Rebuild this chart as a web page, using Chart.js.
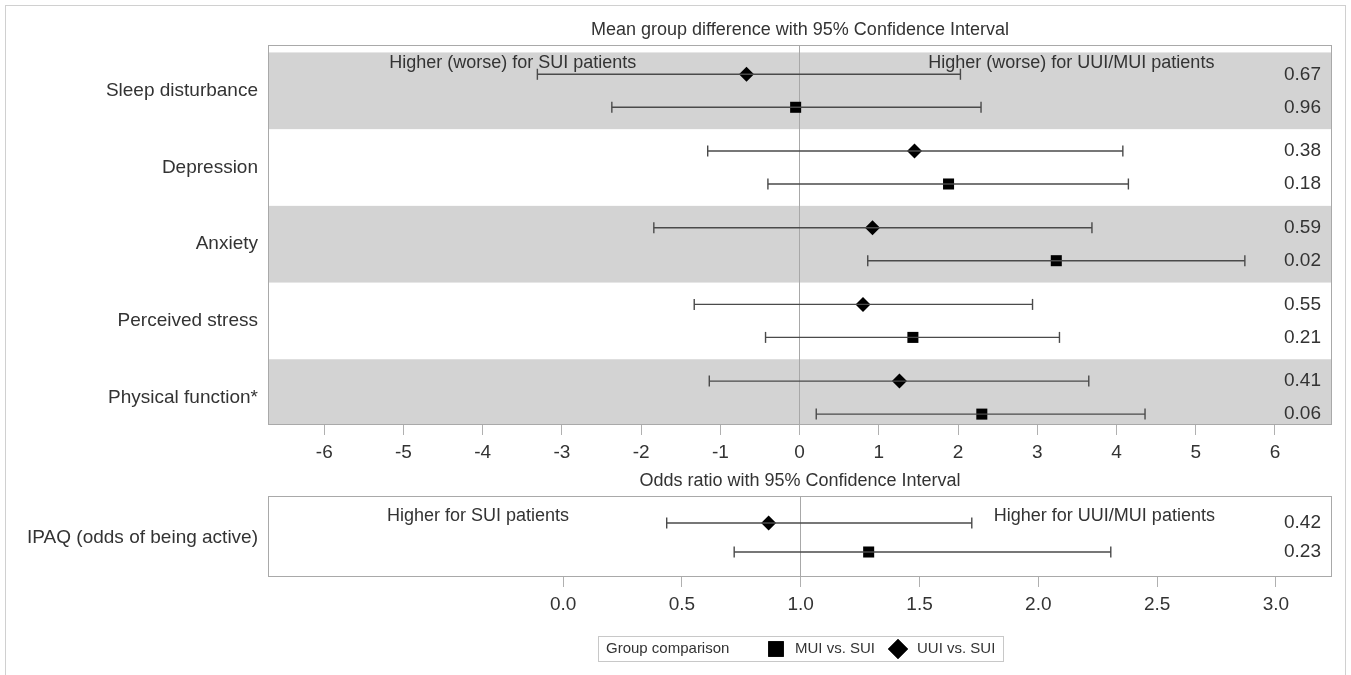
<!DOCTYPE html>
<html>
<head>
<meta charset="utf-8">
<script src="https://cdn.jsdelivr.net/npm/chart.js@4.4.1/dist/chart.umd.min.js"></script>
<style>
  body { margin: 0; background: #fff; }
  #wrap { position: relative; width: 1351px; height: 675px; overflow: hidden; }
  #frame { position: absolute; left: 5px; top: 5px; width: 1339px; height: 700px; border: 1px solid #d0d0d0; }
  canvas { position: absolute; left: 0; }
</style>
</head>
<body>
<div id="wrap">
  <div id="frame"></div>
  <canvas id="diffChart" width="1351" height="470" style="top:0"></canvas>
  <canvas id="oddsChart" width="1351" height="205" style="top:470px"></canvas>
</div>
<script>
// mean group difference panel
const outcomes = ['Sleep disturbance', 'Depression', 'Anxiety', 'Perceived stress', 'Physical function*'];
const uuiEst  = [-0.67, 1.45, 0.92, 0.80, 1.26];
const uuiLow  = [-3.31, -1.16, -1.84, -1.33, -1.14];
const uuiHigh = [2.03, 4.08, 3.69, 2.94, 3.65];
const muiEst  = [-0.05, 1.88, 3.24, 1.43, 2.30];
const muiLow  = [-2.37, -0.40, 0.86, -0.43, 0.21];
const muiHigh = [2.29, 4.15, 5.62, 3.28, 4.36];
const uuiP = ['0.67', '0.38', '0.59', '0.55', '0.41'];
const muiP = ['0.96', '0.18', '0.02', '0.21', '0.06'];
const diffTicks = [-6, -5, -4, -3, -2, -1, 0, 1, 2, 3, 4, 5, 6];

// odds ratio panel
const ipaqLabels = ['IPAQ (odds of being active)'];
const ipaqUuiEst  = [0.865];
const ipaqUuiLow  = [0.436];
const ipaqUuiHigh = [1.72];
const ipaqMuiEst  = [1.286];
const ipaqMuiLow  = [0.72];
const ipaqMuiHigh = [2.305];
const ipaqUuiP = ['0.42'];
const ipaqMuiP = ['0.23'];
const oddsTicks = [0, 0.5, 1, 1.5, 2, 2.5, 3];

const TXT = '#333333';
const LINE = '#4a4a4a';
Chart.defaults.font.family = '"Liberation Sans", Arial, sans-serif';
Chart.defaults.color = TXT;

function ciSets(low, high, off) {
  return low.map(function(lo, i) {
    return {
      showLine: true,
      data: [{x: lo, y: i + off}, {x: high[i], y: i + off}],
      borderColor: LINE,
      borderWidth: 1.4,
      pointStyle: 'line',
      rotation: 90,
      pointRadius: 5.5,
      pointHoverRadius: 5.5,
      pointBorderColor: LINE,
      pointBorderWidth: 1.4
    };
  });
}

function markerSet(est, off, style, r) {
  return {
    data: est.map(function(v, i) { return {x: v, y: i + off}; }),
    pointStyle: style,
    pointRadius: r,
    pointHoverRadius: r,
    backgroundColor: '#000',
    borderColor: '#000',
    borderWidth: 0
  };
}

function makePanel(id, p) {
  const rowOff = 0.215;
  const datasets = []
    .concat(ciSets(p.uuiLow, p.uuiHigh, -rowOff))
    .concat(ciSets(p.muiLow, p.muiHigh, rowOff))
    .concat([markerSet(p.uuiEst, -rowOff, 'rectRot', 7.5), markerSet(p.muiEst, rowOff, 'rect', 7.8)]);

  const decor = {
    id: 'decor',
    beforeDraw: function(chart) {
      const ctx = chart.ctx, a = chart.chartArea, y = chart.scales.y;
      if (!p.bands) return;
      ctx.save();
      ctx.beginPath();
      ctx.rect(a.left, a.top, a.right - a.left, a.bottom - a.top);
      ctx.clip();
      ctx.fillStyle = '#d3d3d3';
      p.labels.forEach(function(l, i) {
        if (i % 2 !== 0) return;
        const t = y.getPixelForValue(i - 0.5), b = y.getPixelForValue(i + 0.5);
        ctx.fillRect(a.left, t, a.right - a.left, b - t);
      });
      ctx.restore();
    },
    afterDraw: function(chart) {
      const ctx = chart.ctx, a = chart.chartArea, x = chart.scales.x, y = chart.scales.y;
      ctx.save();
      ctx.strokeStyle = '#a9a9a9';
      ctx.lineWidth = 1;
      ctx.strokeRect(a.left + 0.5, a.top + 0.5, a.right - a.left - 1, a.bottom - a.top - 1);
      ctx.fillStyle = TXT;
      ctx.font = '18px "Liberation Sans", Arial, sans-serif';
      ctx.textAlign = 'center';
      ctx.textBaseline = 'middle';
      ctx.fillText(p.title, (a.left + a.right) / 2, a.top - 15);
      ctx.fillText(p.noteLeft, x.getPixelForValue(p.noteLeftAt), a.top + p.noteDy);
      ctx.fillText(p.noteRight, x.getPixelForValue(p.noteRightAt), a.top + p.noteDy);
      ctx.font = '19px "Liberation Sans", Arial, sans-serif';
      ctx.textAlign = 'right';
      p.labels.forEach(function(l, i) {
        ctx.fillText(p.uuiP[i], a.right - 11, y.getPixelForValue(i - rowOff));
        ctx.fillText(p.muiP[i], a.right - 11, y.getPixelForValue(i + rowOff));
      });
      if (p.legend) {
        const lx = 598, ly = 166;
        ctx.strokeStyle = '#c8c8c8';
        ctx.strokeRect(lx + 0.5, ly + 0.5, 405, 25);
        ctx.font = '15px "Liberation Sans", Arial, sans-serif';
        ctx.textAlign = 'left';
        ctx.fillText('Group comparison', lx + 8, ly + 13);
        ctx.fillText('MUI vs. SUI', lx + 197, ly + 13);
        ctx.fillText('UUI vs. SUI', lx + 319, ly + 13);
        ctx.fillStyle = '#000';
        Chart.helpers.drawPoint(ctx, {pointStyle: 'rect', radius: 11, borderWidth: 0}, lx + 178, ly + 13);
        ctx.fill();
        Chart.helpers.drawPoint(ctx, {pointStyle: 'rectRot', radius: 10, borderWidth: 0}, lx + 300, ly + 13);
        ctx.fill();
      }
      ctx.restore();
    }
  };

  return new Chart(document.getElementById(id), {
    type: 'scatter',
    data: {datasets: datasets},
    plugins: [decor],
    options: {
      responsive: false,
      animation: false,
      layout: {padding: {top: p.padTop, right: 19, left: 0, bottom: 0}},
      plugins: {legend: {display: false}, tooltip: {enabled: false}},
      scales: {
        x: {
          type: 'linear',
          min: p.xMin,
          max: p.xMax,
          afterBuildTicks: function(s) { s.ticks = p.ticks.map(function(v) { return {value: v}; }); },
          afterFit: function(s) { s.height = p.axisH; },
          border: {display: false},
          grid: {
            color: function(c) { return c.tick && c.tick.value === p.ref ? '#a8a8a8' : 'rgba(0,0,0,0)'; },
            tickColor: '#b0b0b0',
            tickLength: 10,
            lineWidth: 1
          },
          ticks: {
            padding: 6,
            font: {size: 19},
            color: TXT,
            callback: function(v) { return p.fmt(v); }
          }
        },
        y: {
          type: 'linear',
          reverse: true,
          min: p.yMin,
          max: p.yMax,
          afterBuildTicks: function(s) { s.ticks = p.labels.map(function(l, i) { return {value: i}; }); },
          afterFit: function(s) { s.width = 268; },
          border: {display: false},
          grid: {display: false},
          ticks: {
            padding: 2,
            font: {size: 19},
            color: TXT,
            callback: function(v) { return p.labels[Math.round(v)]; }
          }
        }
      }
    }
  });
}

makePanel('diffChart', {
  labels: outcomes,
  uuiEst: uuiEst, uuiLow: uuiLow, uuiHigh: uuiHigh,
  muiEst: muiEst, muiLow: muiLow, muiHigh: muiHigh,
  uuiP: uuiP, muiP: muiP,
  ticks: diffTicks, fmt: function(v) { return String(v); },
  xMin: -6.71, xMax: 6.72, ref: 0,
  yMin: -0.597, yMax: 4.357,
  padTop: 45, axisH: 45,
  bands: true,
  title: 'Mean group difference with 95% Confidence Interval',
  noteLeft: 'Higher (worse) for SUI patients', noteLeftAt: -3.62,
  noteRight: 'Higher (worse) for UUI/MUI patients', noteRightAt: 3.43,
  noteDy: 18
});

makePanel('oddsChart', {
  labels: ipaqLabels,
  uuiEst: ipaqUuiEst, uuiLow: ipaqUuiLow, uuiHigh: ipaqUuiHigh,
  muiEst: ipaqMuiEst, muiLow: ipaqMuiLow, muiHigh: ipaqMuiHigh,
  uuiP: ipaqUuiP, muiP: ipaqMuiP,
  ticks: oddsTicks, fmt: function(v) { return v.toFixed(1); },
  xMin: -1.242, xMax: 3.236, ref: 1,
  yMin: -0.616, yMax: 0.586,
  padTop: 26, axisH: 98,
  bands: false,
  title: 'Odds ratio with 95% Confidence Interval',
  noteLeft: 'Higher for SUI patients', noteLeftAt: -0.358,
  noteRight: 'Higher for UUI/MUI patients', noteRightAt: 2.278,
  noteDy: 20,
  legend: true
});
</script>
</body>
</html>
